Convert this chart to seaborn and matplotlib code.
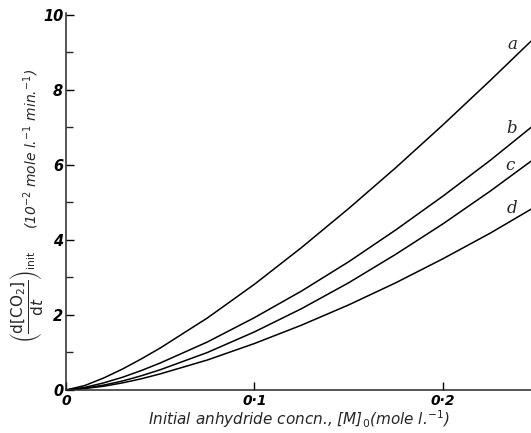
import matplotlib
matplotlib.use("Agg")
import matplotlib.pyplot as plt
import seaborn as sns
import pandas as pd
from matplotlib.ticker import MultipleLocator, FixedLocator

# initial anhydride concentration (mole l^-1)
conc = [0.0, 0.01, 0.02, 0.03, 0.04, 0.05, 0.075, 0.1, 0.125, 0.15, 0.175, 0.2, 0.225, 0.2467]

# initial CO2 rate, 10^-2 mole l^-1 min^-1
rate_a = [0.0, 0.12, 0.32, 0.56, 0.83, 1.12, 1.92, 2.82, 3.80, 4.84, 5.93, 7.07, 8.25, 9.30]
rate_b = [0.0, 0.07, 0.19, 0.34, 0.52, 0.72, 1.28, 1.93, 2.64, 3.42, 4.27, 5.17, 6.12, 7.00]
rate_c = [0.0, 0.05, 0.13, 0.24, 0.38, 0.54, 1.00, 1.55, 2.17, 2.86, 3.62, 4.43, 5.30, 6.10]
rate_d = [0.0, 0.04, 0.10, 0.19, 0.30, 0.43, 0.80, 1.24, 1.73, 2.27, 2.86, 3.50, 4.18, 4.82]
curve_names = ["a", "b", "c", "d"]

xticks = [0.0, 0.1, 0.2]
xtick_labels = ["0", "0·1", "0·2"]
yticks = [0, 2, 4, 6, 8, 10]

frames = []
for name, vals in zip(curve_names, [rate_a, rate_b, rate_c, rate_d]):
    frames.append(pd.DataFrame({"conc": conc, "rate": vals, "curve": name}))
df = pd.concat(frames, ignore_index=True)

sns.set_style("ticks")
plt.rcParams["font.family"] = ["DejaVu Sans"]

fig = plt.figure(figsize=(5.31, 4.33), dpi=100)
ax = fig.add_axes([0.1243, 0.0993, 0.8757, 0.8714])

sns.lineplot(data=df, x="conc", y="rate", hue="curve",
             palette=["black"] * 4, linewidth=1.1, legend=False, ax=ax)

ax.set_xlim(0, 0.2467)
ax.set_ylim(0, 10.06)
sns.despine(ax=ax)
ax.spines["left"].set_linewidth(1.1)
ax.spines["bottom"].set_linewidth(1.1)

ax.xaxis.set_major_locator(FixedLocator(xticks))
ax.set_xticklabels(xtick_labels, fontsize=10, style="italic", fontweight="bold")
ax.yaxis.set_major_locator(FixedLocator(yticks))
ax.yaxis.set_minor_locator(MultipleLocator(1))
ax.set_yticklabels([str(v) for v in yticks], fontsize=10.5, style="italic", fontweight="bold")
ax.tick_params(axis="both", which="major", direction="in", length=6, width=1, colors="black")
ax.tick_params(axis="y", which="minor", direction="in", length=5, width=1)
ax.tick_params(axis="y", which="major", pad=2)
ax.tick_params(axis="x", which="major", pad=3)

# curve letters
label_pos = {"a": (0.2366, 9.2), "b": (0.2366, 6.98), "c": (0.2355, 5.98), "d": (0.2366, 4.85)}
for name, (lx, ly) in label_pos.items():
    ax.text(lx, ly, name, fontsize=12, style="italic", family="DejaVu Serif",
            ha="center", va="center")

ax.set_xlabel("Initial anhydride concn., [M]$_0$(mole l.$^{-1}$)",
              fontsize=11, style="italic", labelpad=0)
ax.set_ylabel("")

# y label: rate fraction at the bottom, units above it
fig.text(0.050, 0.315, r"$\left(\dfrac{\mathrm{d[CO_2]}}{\mathrm{d}t}\right)_{\mathrm{init}}$",
         rotation=90, ha="center", va="center", fontsize=11)
fig.text(0.058, 0.655, "(10$^{-2}$ mole l.$^{-1}$ min.$^{-1}$)",
         rotation=90, ha="center", va="center", fontsize=10, style="italic")

fig.savefig("out.png", dpi=100)
